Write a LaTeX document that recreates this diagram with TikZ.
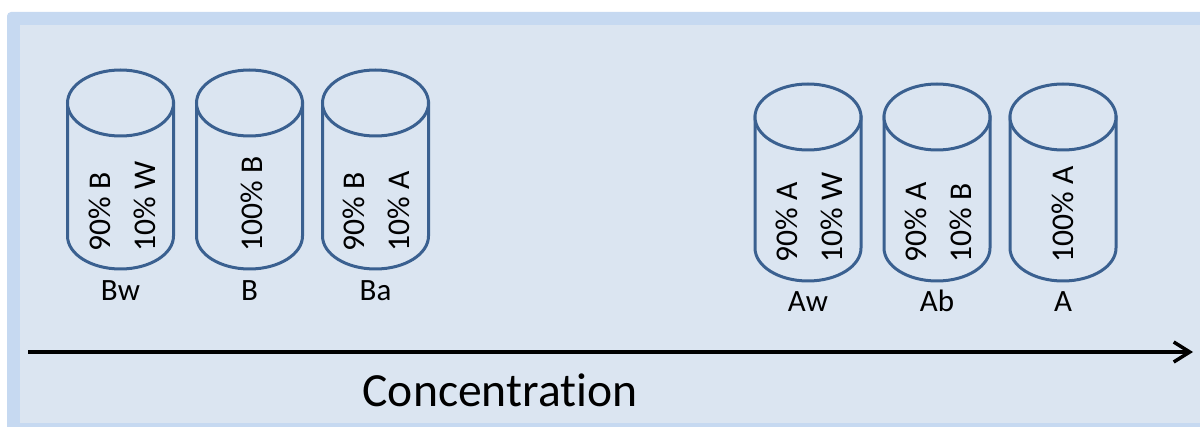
\documentclass[tikz,border=0pt]{standalone}
\usepackage{fontspec}
\setmainfont[Ligatures=NoCommon]{Carlito}
\usetikzlibrary{arrows.meta}
\definecolor{framebd}{HTML}{C6D9F1}
\definecolor{framebg}{HTML}{DBE5F1}
\definecolor{cylbd}{HTML}{3A6090}
\tikzset{
  cyl/.style={draw=cylbd, line width=1.5pt, fill=framebg},
  intext/.style={rotate=90, anchor=base west, inner sep=0pt, font=\fontsize{15.8pt}{18pt}\selectfont},
  lbl/.style={anchor=base, inner sep=0pt, font=\fontsize{15.5pt}{18pt}\selectfont},
}
% #1 center x, #2 top ellipse center y, #3 bottom ellipse center y
\newcommand{\drawcyl}[3]{%
  \path[cyl] (#1-53,#2) -- (#1-53,#3) arc[start angle=180,end angle=0,x radius=53,y radius=33] -- (#1+53,#2) -- cycle;
  \path[cyl] (#1,#2) ellipse[x radius=53,y radius=33];
}
\begin{document}
\begin{tikzpicture}[x=0.5pt,y=-0.5pt]
\useasboundingbox (0,0) rectangle (1200,427);
\clip (0,0) rectangle (1200,427);
\fill[framebd, rounded corners=2pt] (7,12) rectangle (1240,450);
\fill[framebg] (19.5,25) rectangle (1240,422.5);

% left group
\drawcyl{120.5}{103}{236}
\drawcyl{249.5}{103}{236}
\drawcyl{375.5}{103}{236}
\node[intext] (bw1) at (110,252) {90\% B};
\node[intext] (bw2) at (155,252) {10\% W};
\node[intext] (b1) at (262,252) {100\% B};
\node[intext] (ba1) at (364,252) {90\% B};
\node[intext] (ba2) at (409,252) {10\% A};
\node[lbl] (lbw) at (120.5,301) {Bw};
\node[lbl] (lb) at (249.5,301) {B};
\node[lbl] (lba) at (375.5,301) {Ba};

% right group
\drawcyl{808}{117}{248}
\drawcyl{937}{117}{248}
\drawcyl{1063}{117}{248}
\node[intext] (aw1) at (797,263) {90\% A};
\node[intext] (aw2) at (842,263) {10\% W};
\node[intext] (ab1) at (926,263) {90\% A};
\node[intext] (ab2) at (971,263) {10\% B};
\node[intext] (a1) at (1073,263) {100\% A};
\node[lbl] (law) at (808,312) {Aw};
\node[lbl] (lab) at (937,312) {Ab};
\node[lbl] (la) at (1063,312) {A};

% axis
\coordinate (axs) at (28,352);
\coordinate (axe) at (1193,352);
\draw[line width=1.75pt, -{Straight Barb[length=8pt,width=10pt]}] (axs) -- (axe);
\node[anchor=base, inner sep=0pt, font=\fontsize{23.8pt}{28pt}\selectfont] (conc) at (500,407) {Concentration};
\end{tikzpicture}
\end{document}
